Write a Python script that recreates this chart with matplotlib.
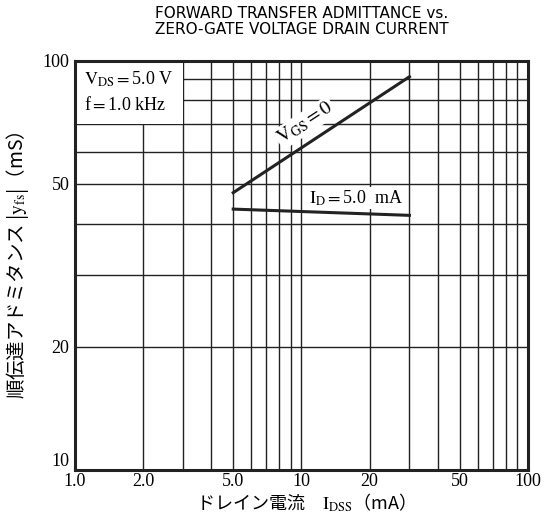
import matplotlib
matplotlib.use("Agg")
import matplotlib.pyplot as plt
from matplotlib.patches import Rectangle
from matplotlib.ticker import FixedLocator, NullFormatter

plt.rcParams["font.family"] = ["Liberation Serif", "Noto Sans CJK JP"]
plt.rcParams["mathtext.fontset"] = "stix"

# data
idss_vgs = [5.0, 30.0]
yfs_vgs = [47.6, 91.4]
idss_id = [5.0, 30.0]
yfs_id = [43.4, 41.9]

x_ticks = [1, 2, 5, 10, 20, 50, 100]
x_labels = ["1.0", "2.0", "5.0", "10", "20", "50", "100"]
y_ticks = [10, 20, 50, 100]
y_labels = ["10", "20", "50", "100"]

x_grid = [1, 2, 3, 4, 5, 6, 7, 8, 9, 10, 20, 30, 40, 50, 60, 70, 80, 90, 100]
y_grid = [10, 20, 30, 40, 50, 60, 70, 80, 90, 100]

fig = plt.figure(figsize=(5.51, 5.26), dpi=100)
ax = fig.add_axes([0.136, 0.1065, 0.822, 0.778])

ax.set_xscale("log")
ax.set_yscale("log")
ax.set_xlim(1, 100)
ax.set_ylim(10, 100)

for v in x_grid:
    ax.axvline(v, color="#222222", linewidth=1.0, zorder=1)
for v in y_grid:
    ax.axhline(v, color="#222222", linewidth=1.0, zorder=1)

ax.plot(idss_vgs, yfs_vgs, color="#222222", linewidth=2.2, zorder=3)
ax.plot(idss_id, yfs_id, color="#222222", linewidth=2.2, zorder=3)

# blank area behind the conditions
ax.add_patch(Rectangle((1, 70), 2, 30, facecolor="white", edgecolor="none", zorder=2))
ax.text(1.1, 90, r"$\mathrm{V_{DS}}=$5.0 V", fontsize=13, va="center", ha="left", zorder=4)
ax.text(1.1, 78, r"f$=$1.0 kHz", fontsize=13, va="center", ha="left", zorder=4)

ax.text(10.4, 70.5, r"$\mathrm{V_{GS}}=0$", fontsize=14, rotation=33, ha="center", va="center",
        zorder=4, bbox=dict(facecolor="white", edgecolor="none", pad=1))
ax.text(17.4, 46.2, r"$\mathrm{I_{D}}=$5.0  mA", fontsize=13, ha="center", va="center",
        zorder=4, bbox=dict(facecolor="white", edgecolor="none", pad=1))

ax.xaxis.set_major_locator(FixedLocator(x_ticks))
ax.set_xticklabels(x_labels)
ax.yaxis.set_major_locator(FixedLocator(y_ticks))
ax.set_yticklabels(y_labels)
ax.xaxis.set_minor_formatter(NullFormatter())
ax.yaxis.set_minor_formatter(NullFormatter())
ax.tick_params(which="both", length=0, labelsize=13)
ax.tick_params(axis="x", pad=2)
ax.tick_params(axis="y", pad=4)
ax.get_yticklabels()[0].set_va("bottom")

for s in ax.spines.values():
    s.set_linewidth(2.2)
    s.set_color("#222222")
    s.set_zorder(5)

ax.set_xlabel(r"ドレイン電流　$\mathrm{I_{DSS}}$（mA）", fontsize=13,
              family=["Noto Sans CJK JP"], labelpad=1)
ax.set_ylabel(r"順伝達アドミタンス |$\mathrm{y_{fs}}$|（mS）", fontsize=14,
              family=["Noto Sans CJK JP"], labelpad=8)

fig.text(0.547, 0.975, "FORWARD TRANSFER ADMITTANCE vs.", fontsize=11, ha="center", va="center",
         family=["Liberation Sans Narrow", "DejaVu Sans"])
fig.text(0.547, 0.943, "ZERO-GATE VOLTAGE DRAIN CURRENT", fontsize=11, ha="center", va="center",
         family=["Liberation Sans Narrow", "DejaVu Sans"])

fig.savefig("out.png", dpi=100)
